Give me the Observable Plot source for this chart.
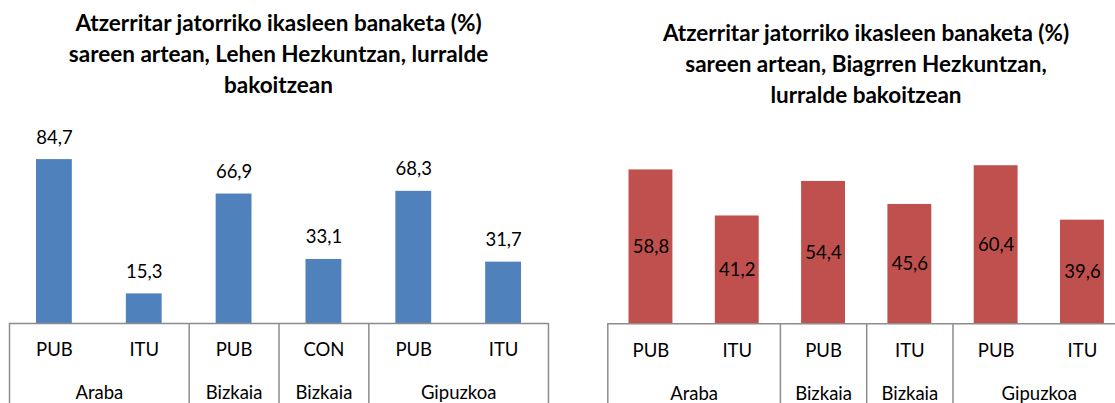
<!DOCTYPE html>
<html><head><meta charset="utf-8">
<script src="https://cdn.jsdelivr.net/npm/d3@7"></script>
<script src="https://cdn.jsdelivr.net/npm/@observablehq/plot@0.6"></script>
<style>
html,body{margin:0;padding:0;background:#fff;overflow:hidden;}
#wrap{position:relative;width:1115px;height:403px;overflow:hidden;font-family:Lato,sans-serif;}
.title{position:absolute;text-align:center;font-weight:bold;font-size:22.5px;line-height:31px;color:#000;white-space:nowrap;transform:translateX(-50%);}
.chart{position:absolute;top:0;}
</style></head><body>
<div id="wrap"></div>
<script>
// Left chart: Lehen Hezkuntza
const titleLeft = ["Atzerritar jatorriko ikasleen banaketa (%)", "sareen artean, Lehen Hezkuntzan, lurralde", "bakoitzean"];
const networksLeft = ["PUB", "ITU", "PUB", "CON", "PUB", "ITU"];
const valuesLeft = [84.7, 15.3, 66.9, 33.1, 68.3, 31.7];
const groupLabelsLeft = ["Araba", "Bizkaia", "Bizkaia", "Gipuzkoa"];
const groupSizesLeft = [2, 1, 1, 2];

// Right chart: Bigarren Hezkuntza
const titleRight = ["Atzerritar jatorriko ikasleen banaketa (%)", "sareen artean, Biagrren Hezkuntzan,", "lurralde bakoitzean"];
const networksRight = ["PUB", "ITU", "PUB", "ITU", "PUB", "ITU"];
const valuesRight = [58.8, 41.2, 54.4, 45.6, 60.4, 39.6];
const groupLabelsRight = ["Araba", "Bizkaia", "Bizkaia", "Gipuzkoa"];
const groupSizesRight = [2, 1, 1, 2];

const fmt = v => v.toFixed(1).replace(".", ",");
const lineColor = "#8c8c8c";

function build(cats, vals, groupLabels, groupSizes, cfg) {
  const data = cats.map((c, i) => ({i, cat: c, value: vals[i]}));
  const groups = [];
  let s = 0;
  groupLabels.forEach((g, k) => { groups.push({label: g, start: s, end: s + groupSizes[k]}); s += groupSizes[k]; });
  const bounds = [0, ...groups.map(g => g.end)];
  const valueLabel = cfg.inside
    ? Plot.text(data, {x: d => d.i + 0.5, y: d => d.value / 2, text: d => fmt(d.value), fill: "#000"})
    : Plot.text(data, {x: d => d.i + 0.5, y: "value", dy: -22, text: d => fmt(d.value), fill: "#000"});
  return Plot.plot({
    width: cfg.width, height: 403,
    marginLeft: cfg.ml, marginRight: cfg.mr, marginTop: cfg.axisY, marginBottom: 0,
    x: {type: "linear", domain: [0, cats.length], range: cfg.xRange, axis: null},
    y: {domain: [0, 100], range: [cfg.axisY, cfg.axisY - 100 * cfg.pxPerUnit], axis: null},
    style: {fontFamily: "Lato, sans-serif", fontSize: "18.5px", color: "#000", background: "transparent", overflow: "visible"},
    marks: [
      Plot.rect(data, {x1: d => d.i, x2: d => d.i + 1, y1: 0, y2: "value", fill: cfg.color, insetLeft: cfg.inset, insetRight: cfg.inset}),
      Plot.ruleX(bounds, {x: d => d, stroke: lineColor, strokeWidth: 1.5}),
      Plot.ruleY([0], {stroke: lineColor, strokeWidth: 1.5}),
      Plot.text(data, {x: d => d.i + 0.5, y: 0, dy: 27, text: "cat", fill: "#000"}),
      Plot.text(groups, {x: d => (d.start + d.end) / 2, y: 0, dy: 70, text: "label", fill: "#000"}),
      valueLabel
    ]
  });
}

const wrap = document.getElementById("wrap");

const left = build(networksLeft, valuesLeft, groupLabelsLeft, groupSizesLeft, {
  width: 557, ml: 9, mr: 9, axisY: 323, xRange: [9, 548], pxPerUnit: 1.935,
  color: "#4F81BD", inset: 27, inside: false
});
left.classList.add("chart"); left.style.left = "0px";
wrap.appendChild(left);

const right = build(networksRight, valuesRight, groupLabelsRight, groupSizesRight, {
  width: 558, ml: 50.3, mr: 0, axisY: 323.3, xRange: [50.3, 568.1], pxPerUnit: 2.617,
  color: "#C0504D", inset: 21.2, inside: true
});
right.classList.add("chart"); right.style.left = "557px";
wrap.appendChild(right);

function addTitle(lines, cx, top) {
  const d = document.createElement("div");
  d.className = "title";
  d.style.left = cx + "px";
  d.style.top = top + "px";
  d.innerHTML = lines.map(l => l.replace(/&/g, "&amp;").replace(/</g, "&lt;")).join("<br>");
  wrap.appendChild(d);
}
addTitle(titleLeft, 278.5, 7);
addTitle(titleRight, 866, 17);
</script>
</body></html>
